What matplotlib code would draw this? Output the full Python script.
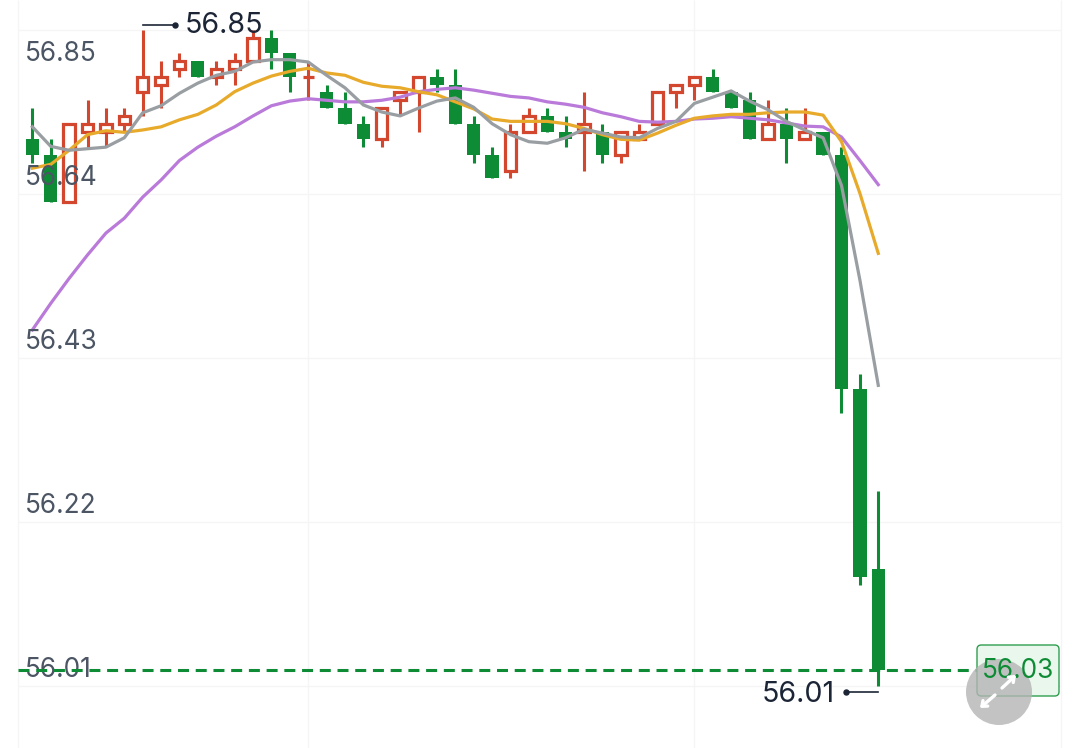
#!/bin/python
import matplotlib
matplotlib.use('Agg')
import matplotlib.pyplot as plt
from matplotlib.patches import Circle, FancyArrowPatch, FancyBboxPatch

plt.rcParams['font.family'] = ['Inter', 'DejaVu Sans']

opens = [56.71, 56.69, 56.63, 56.72, 56.72, 56.73, 56.77, 56.78, 56.80, 56.81, 56.79, 56.80,
         56.81, 56.84, 56.82, 56.79, 56.77, 56.75, 56.73, 56.71, 56.76, 56.77, 56.79, 56.78,
         56.73, 56.69, 56.67, 56.72, 56.74, 56.72, 56.72, 56.72, 56.69, 56.71, 56.73, 56.77,
         56.78, 56.79, 56.77, 56.76, 56.71, 56.73, 56.71, 56.72, 56.69, 56.39, 56.16]
closes = [56.69, 56.63, 56.73, 56.73, 56.73, 56.74, 56.79, 56.79, 56.81, 56.79, 56.80, 56.81,
          56.84, 56.82, 56.79, 56.79, 56.75, 56.73, 56.71, 56.75, 56.77, 56.79, 56.78, 56.73,
          56.69, 56.66, 56.72, 56.74, 56.72, 56.71, 56.73, 56.69, 56.72, 56.72, 56.77, 56.78,
          56.79, 56.77, 56.75, 56.71, 56.73, 56.71, 56.72, 56.69, 56.39, 56.15, 56.03]
highs = [56.75, 56.71, 56.73, 56.76, 56.75, 56.75, 56.85, 56.81, 56.82, 56.81, 56.81, 56.82,
         56.85, 56.85, 56.82, 56.81, 56.78, 56.77, 56.74, 56.75, 56.77, 56.79, 56.80, 56.80,
         56.74, 56.70, 56.73, 56.75, 56.75, 56.74, 56.77, 56.73, 56.72, 56.73, 56.77, 56.78,
         56.79, 56.80, 56.77, 56.77, 56.76, 56.75, 56.75, 56.72, 56.70, 56.41, 56.26]
lows = [56.68, 56.63, 56.63, 56.70, 56.70, 56.72, 56.74, 56.75, 56.79, 56.79, 56.78, 56.78,
        56.81, 56.80, 56.77, 56.76, 56.75, 56.73, 56.70, 56.70, 56.74, 56.72, 56.77, 56.73,
        56.68, 56.66, 56.66, 56.72, 56.72, 56.70, 56.67, 56.68, 56.68, 56.71, 56.73, 56.75,
        56.76, 56.77, 56.75, 56.71, 56.71, 56.68, 56.71, 56.69, 56.36, 56.14, 56.01]

ma_grey = [56.726, 56.701, 56.696, 56.698, 56.700, 56.712, 56.744, 56.753, 56.769, 56.782, 56.792, 56.797,
           56.809, 56.812, 56.812, 56.809, 56.792, 56.776, 56.754, 56.745, 56.740, 56.750, 56.759, 56.763,
           56.751, 56.730, 56.716, 56.707, 56.705, 56.712, 56.723, 56.718, 56.713, 56.712, 56.724, 56.733,
           56.756, 56.764, 56.772, 56.759, 56.748, 56.733, 56.722, 56.712, 56.651, 56.530, 56.395]
ma_yellow = [56.673, 56.678, 56.696, 56.716, 56.721, 56.719, 56.722, 56.726, 56.735, 56.742, 56.754, 56.771,
             56.782, 56.791, 56.797, 56.801, 56.795, 56.792, 56.783, 56.778, 56.776, 56.771, 56.767, 56.758,
             56.749, 56.736, 56.733, 56.733, 56.733, 56.730, 56.724, 56.716, 56.710, 56.709, 56.718, 56.728,
             56.737, 56.740, 56.742, 56.742, 56.744, 56.745, 56.745, 56.741, 56.707, 56.641, 56.564]
ma_purple = [56.466, 56.500, 56.532, 56.562, 56.590, 56.609, 56.636, 56.658, 56.683, 56.700, 56.714, 56.726,
             56.740, 56.753, 56.759, 56.762, 56.760, 56.758, 56.758, 56.760, 56.764, 56.771, 56.774, 56.776,
             56.773, 56.769, 56.765, 56.763, 56.758, 56.755, 56.751, 56.744, 56.739, 56.733, 56.732, 56.733,
             56.736, 56.737, 56.739, 56.737, 56.735, 56.731, 56.727, 56.726, 56.713, 56.683, 56.652]

price_ticks = [56.85, 56.64, 56.43, 56.22, 56.01]
tick_labels = ['56.85', '56.64', '56.43', '56.22', '56.01']
time_grid = [15, 36]
last_price = 56.03

RED = '#d4472f'
GREEN = '#0e8c35'
INK = '#1c2536'

W, H = 1080, 748
fig = plt.figure(figsize=(W / 100, H / 100), dpi=100)
ax = fig.add_axes([0, 0, 1, 1])
ax.set_xlim(-1.76, 56.97)
ax.set_ylim(55.9307, 56.8884)
ax.axis('off')


def px(x, y):
    # screen pixel to figure fraction, for the overlay button
    return x / W, 1 - y / H


LEFT, RIGHT = -0.76, 55.95
ax.hlines(price_ticks, LEFT, RIGHT, color='#f5f5f5', lw=1, zorder=0)
ax.vlines([LEFT, RIGHT] + time_grid, 55.9307, 56.8884, color='#f5f5f5', lw=1, zorder=0)

for i in range(len(opens)):
    up = closes[i] >= opens[i]
    col = RED if up else GREEN
    ax.vlines(i, lows[i], highs[i], color=col, lw=2.2, zorder=2)
    lo, hi = min(opens[i], closes[i]), max(opens[i], closes[i])
    if up:
        ax.bar(i, hi - lo, bottom=lo, width=0.62, facecolor='white', edgecolor=col, lw=2.3, zorder=3)
    else:
        ax.bar(i, hi - lo, bottom=lo, width=0.72, facecolor=col, edgecolor='none', zorder=3)

xs = range(len(ma_grey))
ax.plot(xs, ma_purple, color='#b97ad9', lw=2.3, zorder=4)
ax.plot(xs, ma_yellow, color='#e8aa2a', lw=2.3, zorder=5)
ax.plot(xs, ma_grey, color='#999ea3', lw=2.3, zorder=6)

for tick, lab in zip(price_ticks, tick_labels):
    # the top label hangs below its line, the others sit above
    off = -17.5 if tick == price_ticks[0] else 11.5
    ax.annotate(lab, (-0.4, tick), xytext=(0, off), textcoords='offset points',
                va='center', ha='left', fontsize=18.9, color='#4b5563', zorder=7)

ax.hlines(last_price, LEFT, 51.9, color=GREEN, lw=2.2, linestyle=(0, (3.6, 2.2)), zorder=8)

# high / low markers
hi_i = highs.index(max(highs))
lo_i = lows.index(min(lows))
hi_y = max(highs) + 0.007
lo_y = min(lows) - 0.008
ax.plot([hi_i, hi_i + 1.74], [hi_y, hi_y], color=INK, lw=1.2, zorder=9)
ax.plot([hi_i + 1.74], [hi_y], 'o', color=INK, ms=3.6, zorder=9)
ax.annotate(f'{max(highs):.2f}', (hi_i + 1.74, hi_y), xytext=(7.5, -1), textcoords='offset points',
            va='center', ha='left', fontsize=20.6, color=INK, zorder=9)
ax.plot([lo_i - 1.74, lo_i], [lo_y, lo_y], color=INK, lw=1.2, zorder=9)
ax.plot([lo_i - 1.74], [lo_y], 'o', color=INK, ms=3.6, zorder=9)
ax.annotate(f'{min(lows):.2f}', (lo_i - 1.74, lo_y), xytext=(-8, -1.5), textcoords='offset points',
            va='center', ha='right', fontsize=20.6, color=INK, zorder=9)

# last price tag
x0, y0 = px(977, 696)
x1, y1 = px(1059, 645)
fig.add_artist(FancyBboxPatch((x0, y0), x1 - x0, y1 - y0, transform=fig.transFigure,
                              boxstyle='round,pad=0,rounding_size=0.004', mutation_aspect=1.44,
                              facecolor='#eaf7ed', edgecolor='#2f9e4f', lw=1, zorder=10))

# expand button, the price text shows through it
fig.add_artist(Circle((999, H - 692), 33, transform=None, facecolor='#b4b4b4', alpha=0.8,
                      edgecolor='none', zorder=12))
fig.text(*px(1018, 671), f'{last_price:.2f}', color=GREEN, fontsize=18.9, ha='center', va='center', zorder=13)
for tail, tip in [((1002, 688), (1016, 675)), ((995, 695), (980, 708))]:
    fig.add_artist(FancyArrowPatch(px(*tail), px(*tip), transform=fig.transFigure,
                                   arrowstyle='->,head_length=3.2,head_width=2.6', color='white', lw=2.4,
                                   shrinkA=0, shrinkB=0, zorder=14))

fig.savefig('out.png', dpi=100)
